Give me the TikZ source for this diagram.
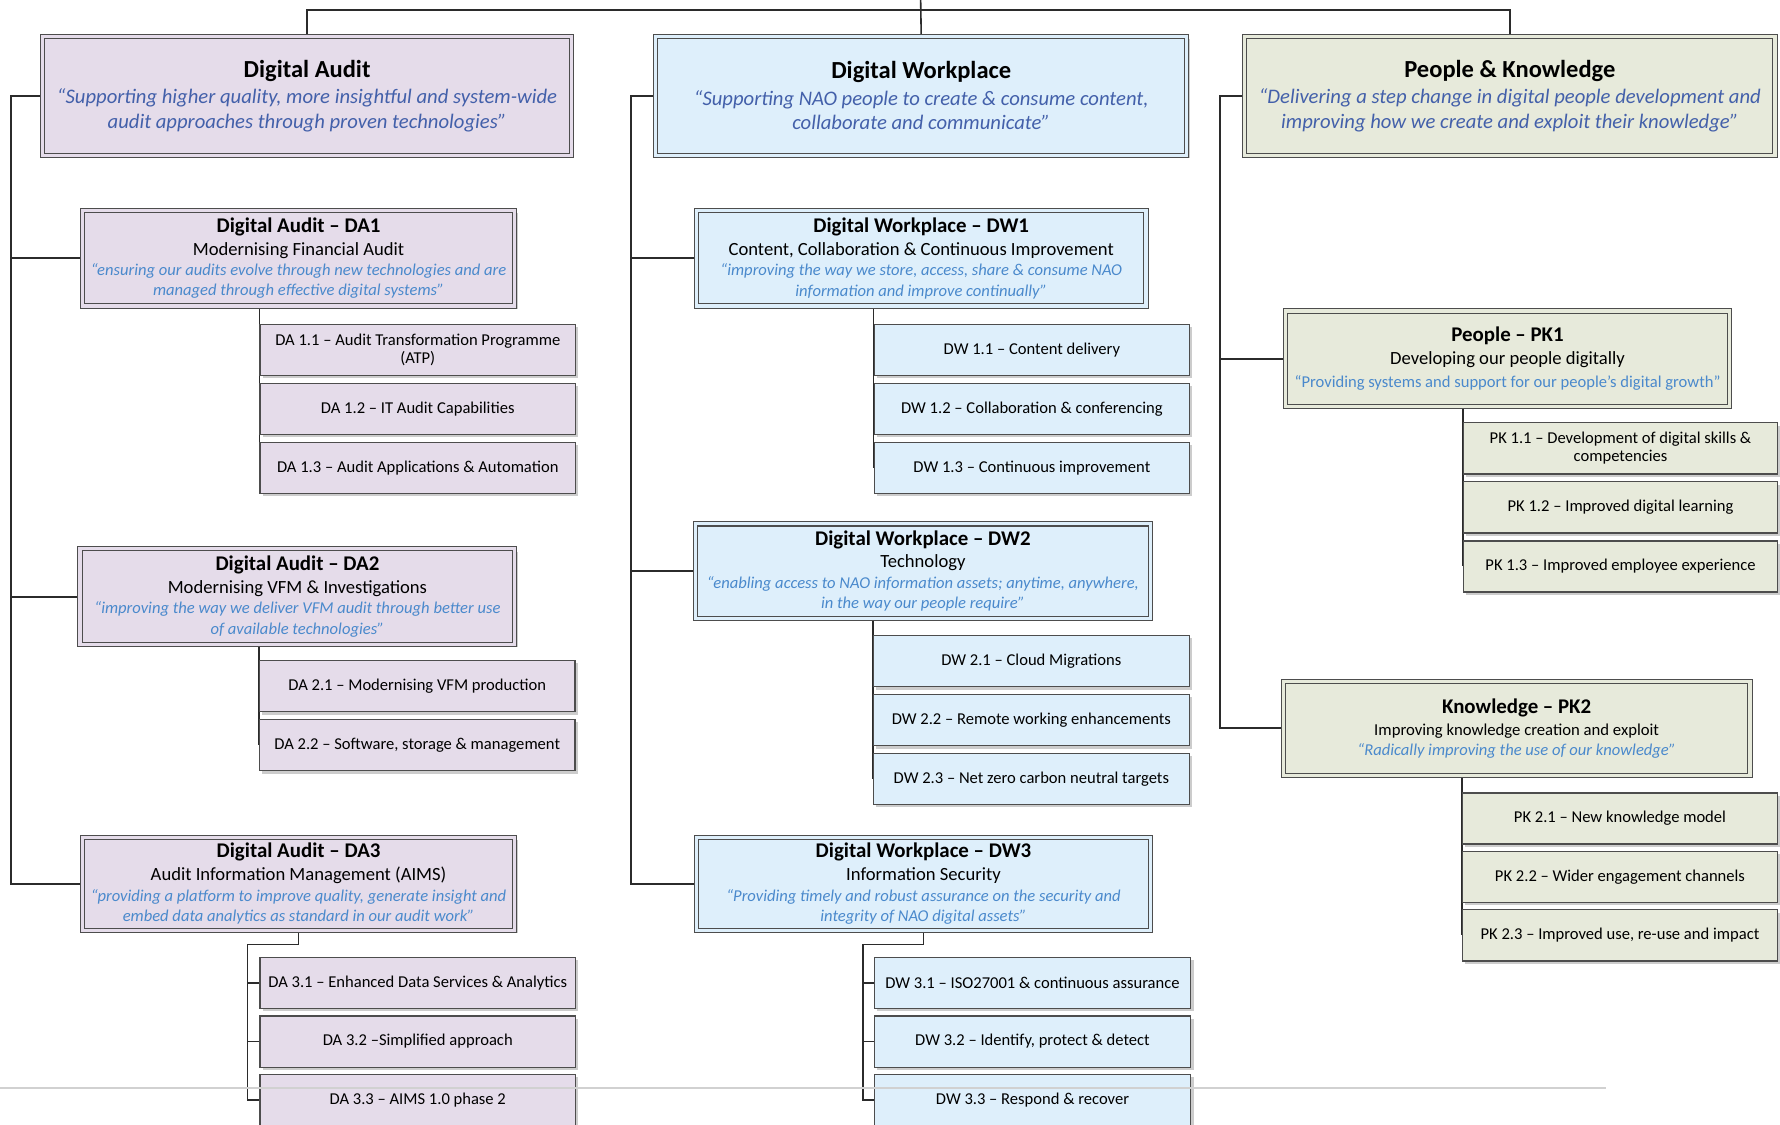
\documentclass[tikz,border=0pt]{standalone}
\usepackage{fontspec}
\setmainfont{Carlito}
\usetikzlibrary{shadows,backgrounds}
\definecolor{dafill}{HTML}{E5DCEA}
\definecolor{dwfill}{HTML}{DEEFFB}
\definecolor{pkfill}{HTML}{E7EADB}
\definecolor{bordc}{HTML}{4D4D4D}
\definecolor{qone}{HTML}{4360AA}
\definecolor{qtwo}{HTML}{4A89CC}
\definecolor{connc}{HTML}{2B2B2B}
\newcommand\qa[1]{{\color{qone}\itshape #1}}
\newcommand\qb[1]{{\color{qtwo}\itshape #1}}
\newcommand\qbup[1]{{\color{qtwo}#1}}
\newcommand\ttl[1]{{\fontsize{9.2}{9}\selectfont\bfseries #1}}
\newcommand\sbt[1]{{\fontsize{8.2}{9}\selectfont #1}}
\tikzset{
  x=0.5pt, y=-0.5pt,
  shad/.style={drop shadow={shadow xshift=1.2pt, shadow yshift=-1.2pt, opacity=0.2, fill=black}},
  dacol/.style={fill=dafill},
  dwcol/.style={fill=dwfill},
  pkcol/.style={fill=pkfill},
  dadbl/.style={fill=dafill, double=dafill},
  dwdbl/.style={fill=dwfill, double=dwfill},
  pkdbl/.style={fill=pkfill, double=pkfill},
  topbox/.style={rectangle, inner sep=0pt, align=center, draw=bordc, line width=0.45pt,
    double distance=1.4pt, shad, minimum height=52.5pt, font=\fontsize{9.1}{11}\selectfont},
  midbox/.style={rectangle, inner sep=0pt, align=center, draw=bordc, line width=0.45pt,
    double distance=1.4pt, shad, font=\fontsize{7.3}{9}\selectfont},
  leafbox/.style={rectangle, inner sep=0pt, align=center, draw=bordc, line width=0.5pt,
    shad, minimum height=22.5pt, font=\fontsize{7.3}{8}\selectfont},
  trunk/.style={draw=connc, line width=0.9pt},
  thinconn/.style={draw=connc, line width=0.7pt},
}
\begin{document}
\begin{tikzpicture}
\useasboundingbox (0,0) rectangle (1568,991);

% ---------- level 1 ----------
\node[topbox,dadbl,minimum width=233pt] (da) at (270.5,84.5)
  {{\fontsize{10.8}{11}\selectfont\bfseries Digital Audit}\\[0.5pt]
   \qa{“Supporting higher quality, more insightful and system-wide}\\
   \qa{audit approaches through proven technologies”}};
\node[topbox,dwdbl,minimum width=234pt] (dw) at (811.5,84.5)
  {{\fontsize{10.8}{11}\selectfont\bfseries Digital Workplace}\\[0.5pt]
   \qa{“Supporting NAO people to create \& consume content,}\\
   \qa{collaborate and communicate”}};
\node[topbox,pkdbl,minimum width=233.5pt] (pk) at (1330,84.5)
  {{\fontsize{10.8}{11}\selectfont\bfseries People \& Knowledge}\\[0.5pt]
   \qa{“Delivering a step change in digital people development and}\\
   \qa{improving how we create and exploit their knowledge”}};

% ---------- level 2 ----------
\node[midbox,dadbl,minimum width=190.5pt,minimum height=42pt] (da1) at (263,227.5)
  {\ttl{Digital Audit – DA1}\\[1pt] \sbt{Modernising Financial Audit}\\
   \qb{“ensuring our audits evolve through new technologies and are}\\
   \qb{managed through effective digital systems”}};
\node[midbox,dadbl,minimum width=191.5pt,minimum height=42pt] (da2) at (262,525.5)
  {\ttl{Digital Audit – DA2}\\[1pt] \sbt{Modernising VFM \& Investigations}\\
   \qb{“improving the way we deliver VFM audit through better use}\\
   \qb{of available technologies”}};
\node[midbox,dadbl,minimum width=190.5pt,minimum height=41pt] (da3) at (263,778.5)
  {\ttl{Digital Audit – DA3}\\[1pt] \sbt{Audit Information Management (AIMS)}\\
   \qb{“providing a platform to improve quality, generate insight and}\\
   \qb{embed data analytics as standard in our audit work”}};

\node[midbox,dwdbl,minimum width=198pt,minimum height=42pt] (dw1) at (811.5,227.5)
  {\ttl{Digital Workplace – DW1}\\[1pt] \sbt{Content, Collaboration \& Continuous Improvement}\\
   \qb{“improving the way we store, access, share \& consume NAO}\\
   \qb{information and improve continually”}};
\node[midbox,dwdbl,minimum width=200.5pt,minimum height=41.5pt] (dw2) at (813,503)
  {\ttl{Digital Workplace – DW2}\\[1pt] \sbt{Technology}\\
   \qb{“enabling access to NAO information assets; anytime, anywhere,}\\
   \qb{in the way our people require”}};
\node[midbox,dwdbl,minimum width=200pt,minimum height=41pt] (dw3) at (813.5,778.5)
  {\ttl{Digital Workplace – DW3}\\[1pt] \sbt{Information Security}\\
   \qb{“Providing timely and robust assurance on the security and}\\
   \qb{integrity of NAO digital assets”}};

\node[midbox,pkdbl,minimum width=195.5pt,minimum height=42pt] (pk1) at (1328,316)
  {\ttl{People – PK1}\\[1pt] \sbt{Developing our people digitally}\\[1pt]
   \qbup{“Providing systems and support for our people’s digital growth”}};
\node[midbox,pkdbl,minimum width=205.5pt,minimum height=41.5pt] (pk2) at (1336,641.5)
  {\ttl{Knowledge – PK2}\\[1pt] {\fontsize{7.35}{9}\selectfont Improving knowledge creation and exploit}\\[-0.5pt]
   \qb{“Radically improving the use of our knowledge”}};

% ---------- leaves ----------
\node[leafbox,dacol,minimum width=139pt] (da11) at (368,308) {DA 1.1 – Audit Transformation Programme\\(ATP)};
\node[leafbox,dacol,minimum width=139pt] (da12) at (368,360) {DA 1.2 – IT Audit Capabilities};
\node[leafbox,dacol,minimum width=139pt] (da13) at (368,412) {DA 1.3 – Audit Applications \& Automation};
\node[leafbox,dacol,minimum width=139pt] (da21) at (367.5,604.5) {DA 2.1 – Modernising VFM production};
\node[leafbox,dacol,minimum width=139pt] (da22) at (367.5,656.5) {DA 2.2 – Software, storage \& management};
\node[leafbox,dacol,minimum width=139pt] (da31) at (368,866) {DA 3.1 – Enhanced Data Services \& Analytics};
\node[leafbox,dacol,minimum width=139pt] (da32) at (368,917.5) {DA 3.2 –Simplified approach};
\node[leafbox,dacol,minimum width=139pt] (da33) at (368,969) {DA 3.3 – AIMS 1.0 phase 2};

\node[leafbox,dwcol,minimum width=139pt] (dw11) at (909,308) {DW 1.1 – Content delivery};
\node[leafbox,dwcol,minimum width=139pt] (dw12) at (909,360) {DW 1.2 – Collaboration \& conferencing};
\node[leafbox,dwcol,minimum width=139pt] (dw13) at (909,412) {DW 1.3 – Continuous improvement};
\node[leafbox,dwcol,minimum width=139pt] (dw21) at (908.5,582.5) {DW 2.1 – Cloud Migrations};
\node[leafbox,dwcol,minimum width=139pt] (dw22) at (908.5,634.5) {DW 2.2 – Remote working enhancements};
\node[leafbox,dwcol,minimum width=139pt] (dw23) at (908.5,686) {DW 2.3 – Net zero carbon neutral targets};
\node[leafbox,dwcol,minimum width=139.5pt] (dw31) at (909.5,866) {DW 3.1 – ISO27001 \& continuous assurance};
\node[leafbox,dwcol,minimum width=139.5pt] (dw32) at (909.5,917.5) {DW 3.2 – Identify, protect \& detect};
\node[leafbox,dwcol,minimum width=139.5pt] (dw33) at (909.5,969) {DW 3.3 – Respond \& recover};

\node[leafbox,pkcol,minimum width=138.5pt] (pk11) at (1427.5,395) {PK 1.1 – Development of digital skills \&\\competencies};
\node[leafbox,pkcol,minimum width=138.5pt] (pk12) at (1427.5,447) {PK 1.2 – Improved digital learning};
\node[leafbox,pkcol,minimum width=138.5pt] (pk13) at (1427.5,499) {PK 1.3 – Improved employee experience};
\node[leafbox,pkcol,minimum width=138.5pt] (pk21) at (1427,721) {PK 2.1 – New knowledge model};
\node[leafbox,pkcol,minimum width=138.5pt] (pk22) at (1427,772.5) {PK 2.2 – Wider engagement channels};
\node[leafbox,pkcol,minimum width=138.5pt] (pk23) at (1427,824) {PK 2.3 – Improved use, re-use and impact};

% ---------- connectors (behind) ----------
\begin{scope}[on background layer]
  \fill[white] (0,0) rectangle (1568,991);
  \coordinate (topc) at (811,0);
  \coordinate (hub) at (811,9);
  \coordinate (dat) at (10,0);
  \coordinate (dwt) at (556,0);
  \coordinate (pkt) at (1075,0);
  \coordinate (da3bend) at (218,832);
  \coordinate (dw3bend) at (760,832);

  \draw[thinconn] (topc) -- (dw.north);
  \draw[thinconn] (hub) -| (da.north);
  \draw[thinconn] (hub) -| (pk.north);

  \draw[trunk] (da.west) -- (da.west -| dat) -- (da3.west -| dat) -- (da3.west);
  \draw[trunk] (da1.west -| dat) -- (da1.west);
  \draw[trunk] (da2.west -| dat) -- (da2.west);

  \draw[trunk] (dw.west) -- (dw.west -| dwt) -- (dw3.west -| dwt) -- (dw3.west);
  \draw[trunk] (dw1.west -| dwt) -- (dw1.west);
  \draw[trunk] (dw2.west -| dwt) -- (dw2.west);

  \draw[trunk] (pk.west) -- (pk.west -| pkt) -- (pk2.west -| pkt) -- (pk2.west);
  \draw[trunk] (pk1.west -| pkt) -- (pk1.west);

  \draw[thinconn] (da1.south) -- ++(0,1.5) -| (da13.west);
  \draw[thinconn] (da2.south) -- ++(0,1.5) -| (da22.west);
  \draw[thinconn] (dw1.south) -- ++(0,1.5) -| (dw13.west);
  \draw[thinconn] (dw2.south) -- ++(0,1.5) -| (dw23.west);
  \draw[thinconn] (pk1.south) -- ++(0,1.5) -| (pk13.west);
  \draw[thinconn] (pk2.south) -- ++(0,1.5) -| (pk23.west);

  \draw[thinconn] (da3.south) |- (da3bend) |- (da33.west);
  \draw[thinconn] (da3bend |- da31.west) -- (da31.west);
  \draw[thinconn] (da3bend |- da32.west) -- (da32.west);
  \draw[thinconn] (dw3.south) |- (dw3bend) |- (dw33.west);
  \draw[thinconn] (dw3bend |- dw31.west) -- (dw31.west);
  \draw[thinconn] (dw3bend |- dw32.west) -- (dw32.west);
\end{scope}

% faint page edge line
\draw[black!18, line width=0.9pt] (0,958) -- (1415,958);
\end{tikzpicture}
\end{document}
